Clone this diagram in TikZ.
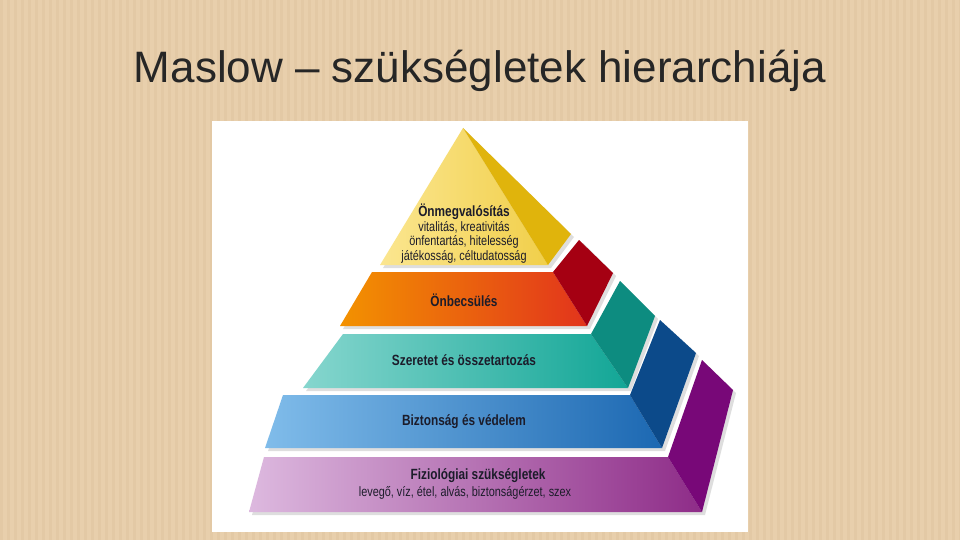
\documentclass[tikz,border=0pt]{standalone}
\usepackage{fontspec}
\setmainfont{Liberation Sans}
\newfontfamily\narrowfont[FakeStretch=0.8]{Liberation Sans}
\definecolor{bgtan}{HTML}{E8CFAC}
\definecolor{stripe}{HTML}{D9BC95}
\definecolor{txt}{HTML}{1C1C2A}
\definecolor{yelL}{HTML}{FBE690}
\definecolor{yelR}{HTML}{F1CF4A}
\definecolor{yelS}{HTML}{E0B40C}
\definecolor{oraL}{HTML}{F39200}
\definecolor{oraR}{HTML}{E2341C}
\definecolor{oraS}{HTML}{A50012}
\definecolor{teaL}{HTML}{86D6CE}
\definecolor{teaR}{HTML}{12A696}
\definecolor{teaS}{HTML}{0D8C80}
\definecolor{bluL}{HTML}{80BCEA}
\definecolor{bluR}{HTML}{1C68B2}
\definecolor{bluS}{HTML}{0C4A8A}
\definecolor{purL}{HTML}{DDB9DF}
\definecolor{purR}{HTML}{8E2C88}
\definecolor{purS}{HTML}{780878}
\tikzset{
  shadowfill/.style={fill=black, fill opacity=0.13},
  lbl/.style={text=txt, font=\narrowfont\bfseries\fontsize{14.8}{16}\selectfont, inner sep=0pt},
  sub/.style={text=txt, font=\narrowfont\fontsize{13.6}{14.5}\selectfont, inner sep=0pt, align=center}
}
\begin{document}
\begin{tikzpicture}[x=1pt,y=-1pt]
\useasboundingbox (0,0) rectangle (960,540);
% background
\fill[bgtan] (0,0) rectangle (960,540);
\foreach \i in {0,7,...,960} {
  \fill[stripe, opacity=0.28] (\i,0) rectangle ++(2.5,540);
}
% title
\node[text=black!85, font=\fontsize{44}{48}\selectfont, inner sep=0pt] (title) at (480,71) {Maslow – szükségletek hierarchiája};
% white panel
\fill[white] (212,121) rectangle (748,532);
% shadows
\fill[shadowfill] (383,268) -- (466,131) -- (574,237) -- (551,268) -- cycle;
\fill[shadowfill] (375,275) -- (556,275) -- (583,243) -- (616,276) -- (590,329) -- (343,329) -- cycle;
\fill[shadowfill] (346,337) -- (594,337) -- (623,284) -- (658,319) -- (631,391) -- (306,391) -- cycle;
\fill[shadowfill] (286,398) -- (633,398) -- (663,323) -- (699,356) -- (665,451) -- (268,451) -- cycle;
\fill[shadowfill] (267,460) -- (671,460) -- (705,363) -- (736,393) -- (705,515) -- (252,515) -- cycle;
% layer 1 yellow
\shade[left color=yelL, right color=yelR] (463,128) -- (548,265) -- (380,265) -- cycle;
\fill[yelS] (463,128) -- (571,234) -- (548,265) -- cycle;
% layer 2 orange
\shade[left color=oraL, right color=oraR] (372,272) -- (553,272) -- (587,326) -- (340,326) -- cycle;
\fill[oraS] (553,272) -- (579,240) -- (613,273) -- (587,326) -- cycle;
% layer 3 teal
\shade[left color=teaL, right color=teaR] (343,334) -- (591,334) -- (628,388) -- (303,388) -- cycle;
\fill[teaS] (591,334) -- (620,281) -- (655,316) -- (628,388) -- cycle;
% layer 4 blue
\shade[left color=bluL, right color=bluR] (283,395) -- (630,395) -- (662,448) -- (265,448) -- cycle;
\fill[bluS] (630,395) -- (660,320) -- (696,353) -- (662,448) -- cycle;
% layer 5 purple
\shade[left color=purL, right color=purR] (264,457) -- (668,457) -- (702,512) -- (249,512) -- cycle;
\fill[purS] (668,457) -- (702,360) -- (733,390) -- (702,512) -- cycle;
% labels
\node[lbl] (l1) at (464,212) {Önmegvalósítás};
\node[sub, anchor=north] (l1s) at (464,221) {vitalitás, kreativitás\\önfentartás, hitelesség\\játékosság, céltudatosság};
\node[lbl] (l2) at (464,300) {Önbecsülés};
\node[lbl] (l3) at (464,360) {Szeretet és összetartozás};
\node[lbl] (l4) at (464,422) {Biztonság és védelem};
\node[lbl] (l5) at (478,476) {Fiziológiai szükségletek};
\node[sub] (l5s) at (465,493) {levegő, víz, étel, alvás, biztonságérzet, szex};
\end{tikzpicture}
\end{document}
